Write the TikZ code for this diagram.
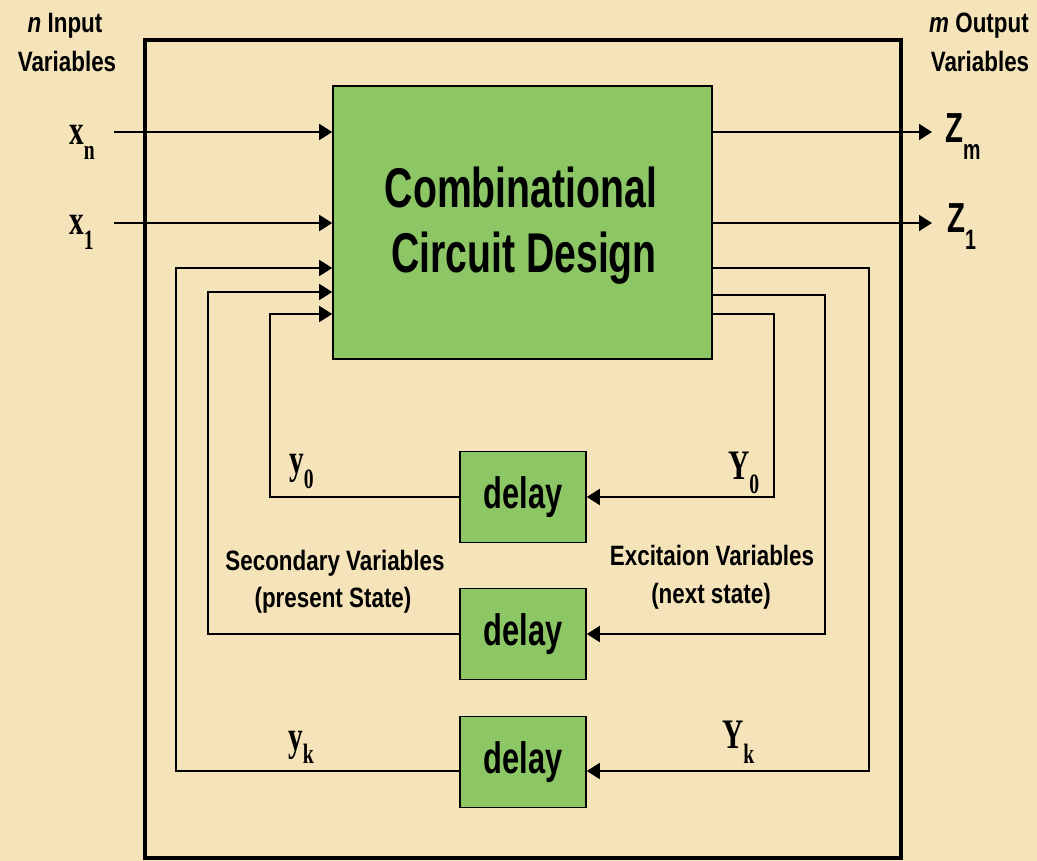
\documentclass[tikz,border=0pt]{standalone}
\usepackage{fontspec}
\setmainfont{Liberation Sans}
\newfontfamily\sansN[FakeStretch=0.7]{Liberation Sans}
\newfontfamily\sansL[FakeStretch=0.8]{Liberation Sans}
\newfontfamily\serifN[FakeStretch=0.7]{Liberation Serif}
\usetikzlibrary{arrows.meta}
\definecolor{bgc}{RGB}{245,228,186}
\definecolor{boxg}{RGB}{140,198,101}
\newcommand{\fsz}[1]{\fontsize{#1}{#1}\selectfont}
\tikzset{
  frame/.style={draw=black,line width=4pt,minimum width=756pt,minimum height=818pt,inner sep=0pt},
  combbox/.style={draw=black,fill=boxg,line width=1.6pt,minimum width=379pt,minimum height=273pt,inner sep=0pt},
  delaybox/.style={draw=black,fill=boxg,line width=1.6pt,minimum width=126pt,minimum height=91pt,inner sep=0pt,font=\sansN\bfseries\fsz{44}},
  wire/.style={line width=1.8pt,black},
  arr/.style={wire,-{Triangle[length=13pt,width=16pt]}},
  biglbl/.style={inner sep=0pt,anchor=base,font=\sansN\bfseries\fsz{56}},
  smalllbl/.style={inner sep=0pt,anchor=base,font=\sansL\bfseries\fsz{28}},
  serlbl/.style={inner sep=0pt,anchor=base west,font=\serifN\bfseries\fsz{42}},
  zlbl/.style={inner sep=0pt,anchor=base west,font=\sansN\bfseries\fsz{42}},
}
\newcommand{\sbs}[2]{\raisebox{-#1pt}{\fsz{28}#2}}
\begin{document}
\begin{tikzpicture}[x=1pt,y=-1pt]
\fill[bgc] (0,0) rectangle (1037,861);
\useasboundingbox (0,0) rectangle (1037,861);

\node[frame] (frame) at (523,449) {};
\node[combbox] (comb) at (522.5,222.5) {};
\node[biglbl] (comb1) at (521,208) {Combinational};
\node[biglbl] (comb2) at (524,273) {Circuit Design};

\node[delaybox] (d0) at (523,497) {delay};
\node[delaybox] (d1) at (523,634) {delay};
\node[delaybox] (d2) at (523,762) {delay};

% inputs
\coordinate (xn) at (114,132);
\coordinate (x1) at (114,223);
\draw[arr] (xn) -- (xn -| comb.west);
\draw[arr] (x1) -- (x1 -| comb.west);

% outputs
\coordinate (zm) at (932,132);
\coordinate (z1) at (932,223);
\draw[arr] (zm -| comb.east) -- (zm);
\draw[arr] (z1 -| comb.east) -- (z1);

% feedback left
\coordinate (c0) at (270,314);
\coordinate (c1) at (208,292);
\coordinate (ck) at (176,268);
\coordinate (bk) at (176,771);
\draw[arr] (d0.west) -| (c0) -- (c0 -| comb.west);
\draw[arr] (d1.west) -| (c1) -- (c1 -| comb.west);
\draw[arr] (bk -| d2.west) -- (bk) -- (ck) -- (ck -| comb.west);

% feedback right
\coordinate (e0) at (774,314);
\coordinate (e1) at (825,295);
\coordinate (ek) at (869,268);
\coordinate (fk) at (869,771);
\draw[arr] (e0 -| comb.east) -- (e0) |- (d0.east);
\draw[arr] (e1 -| comb.east) -- (e1) |- (d1.east);
\draw[arr] (ek -| comb.east) -- (ek) -- (fk) -- (fk -| d2.east);

% labels
\node[smalllbl] (nin) at (65,33) {{\itshape n} Input};
\node[smalllbl] (nvar) at (67,72) {Variables};
\node[smalllbl] (mout) at (979,33) {{\itshape m} Output};
\node[smalllbl] (mvar) at (980,72) {Variables};

\node[serlbl] (lxn) at (69,145) {x\sbs{15}{n}};
\node[serlbl] (lx1) at (69,235) {x\sbs{15}{1}};
\node[zlbl] (lzm) at (945,143) {Z\sbs{17}{\sansN m}};
\node[zlbl] (lz1) at (947,233) {Z\sbs{17}{\sansN 1}};

\node[serlbl] (ly0) at (289,473) {y\sbs{15}{0}};
\node[serlbl] (lY0) at (728,479) {Y\sbs{14}{0}};
\node[serlbl] (lyk) at (288,750) {y\sbs{13}{k}};
\node[serlbl] (lYk) at (722,748) {Y\sbs{15}{k}};

\node[smalllbl] (sec1) at (335,570) {Secondary Variables};
\node[smalllbl] (sec2) at (333,607) {(present State)};
\node[smalllbl] (exc1) at (712,565) {Excitaion Variables};
\node[smalllbl] (exc2) at (711,603) {(next state)};
\end{tikzpicture}
\end{document}
